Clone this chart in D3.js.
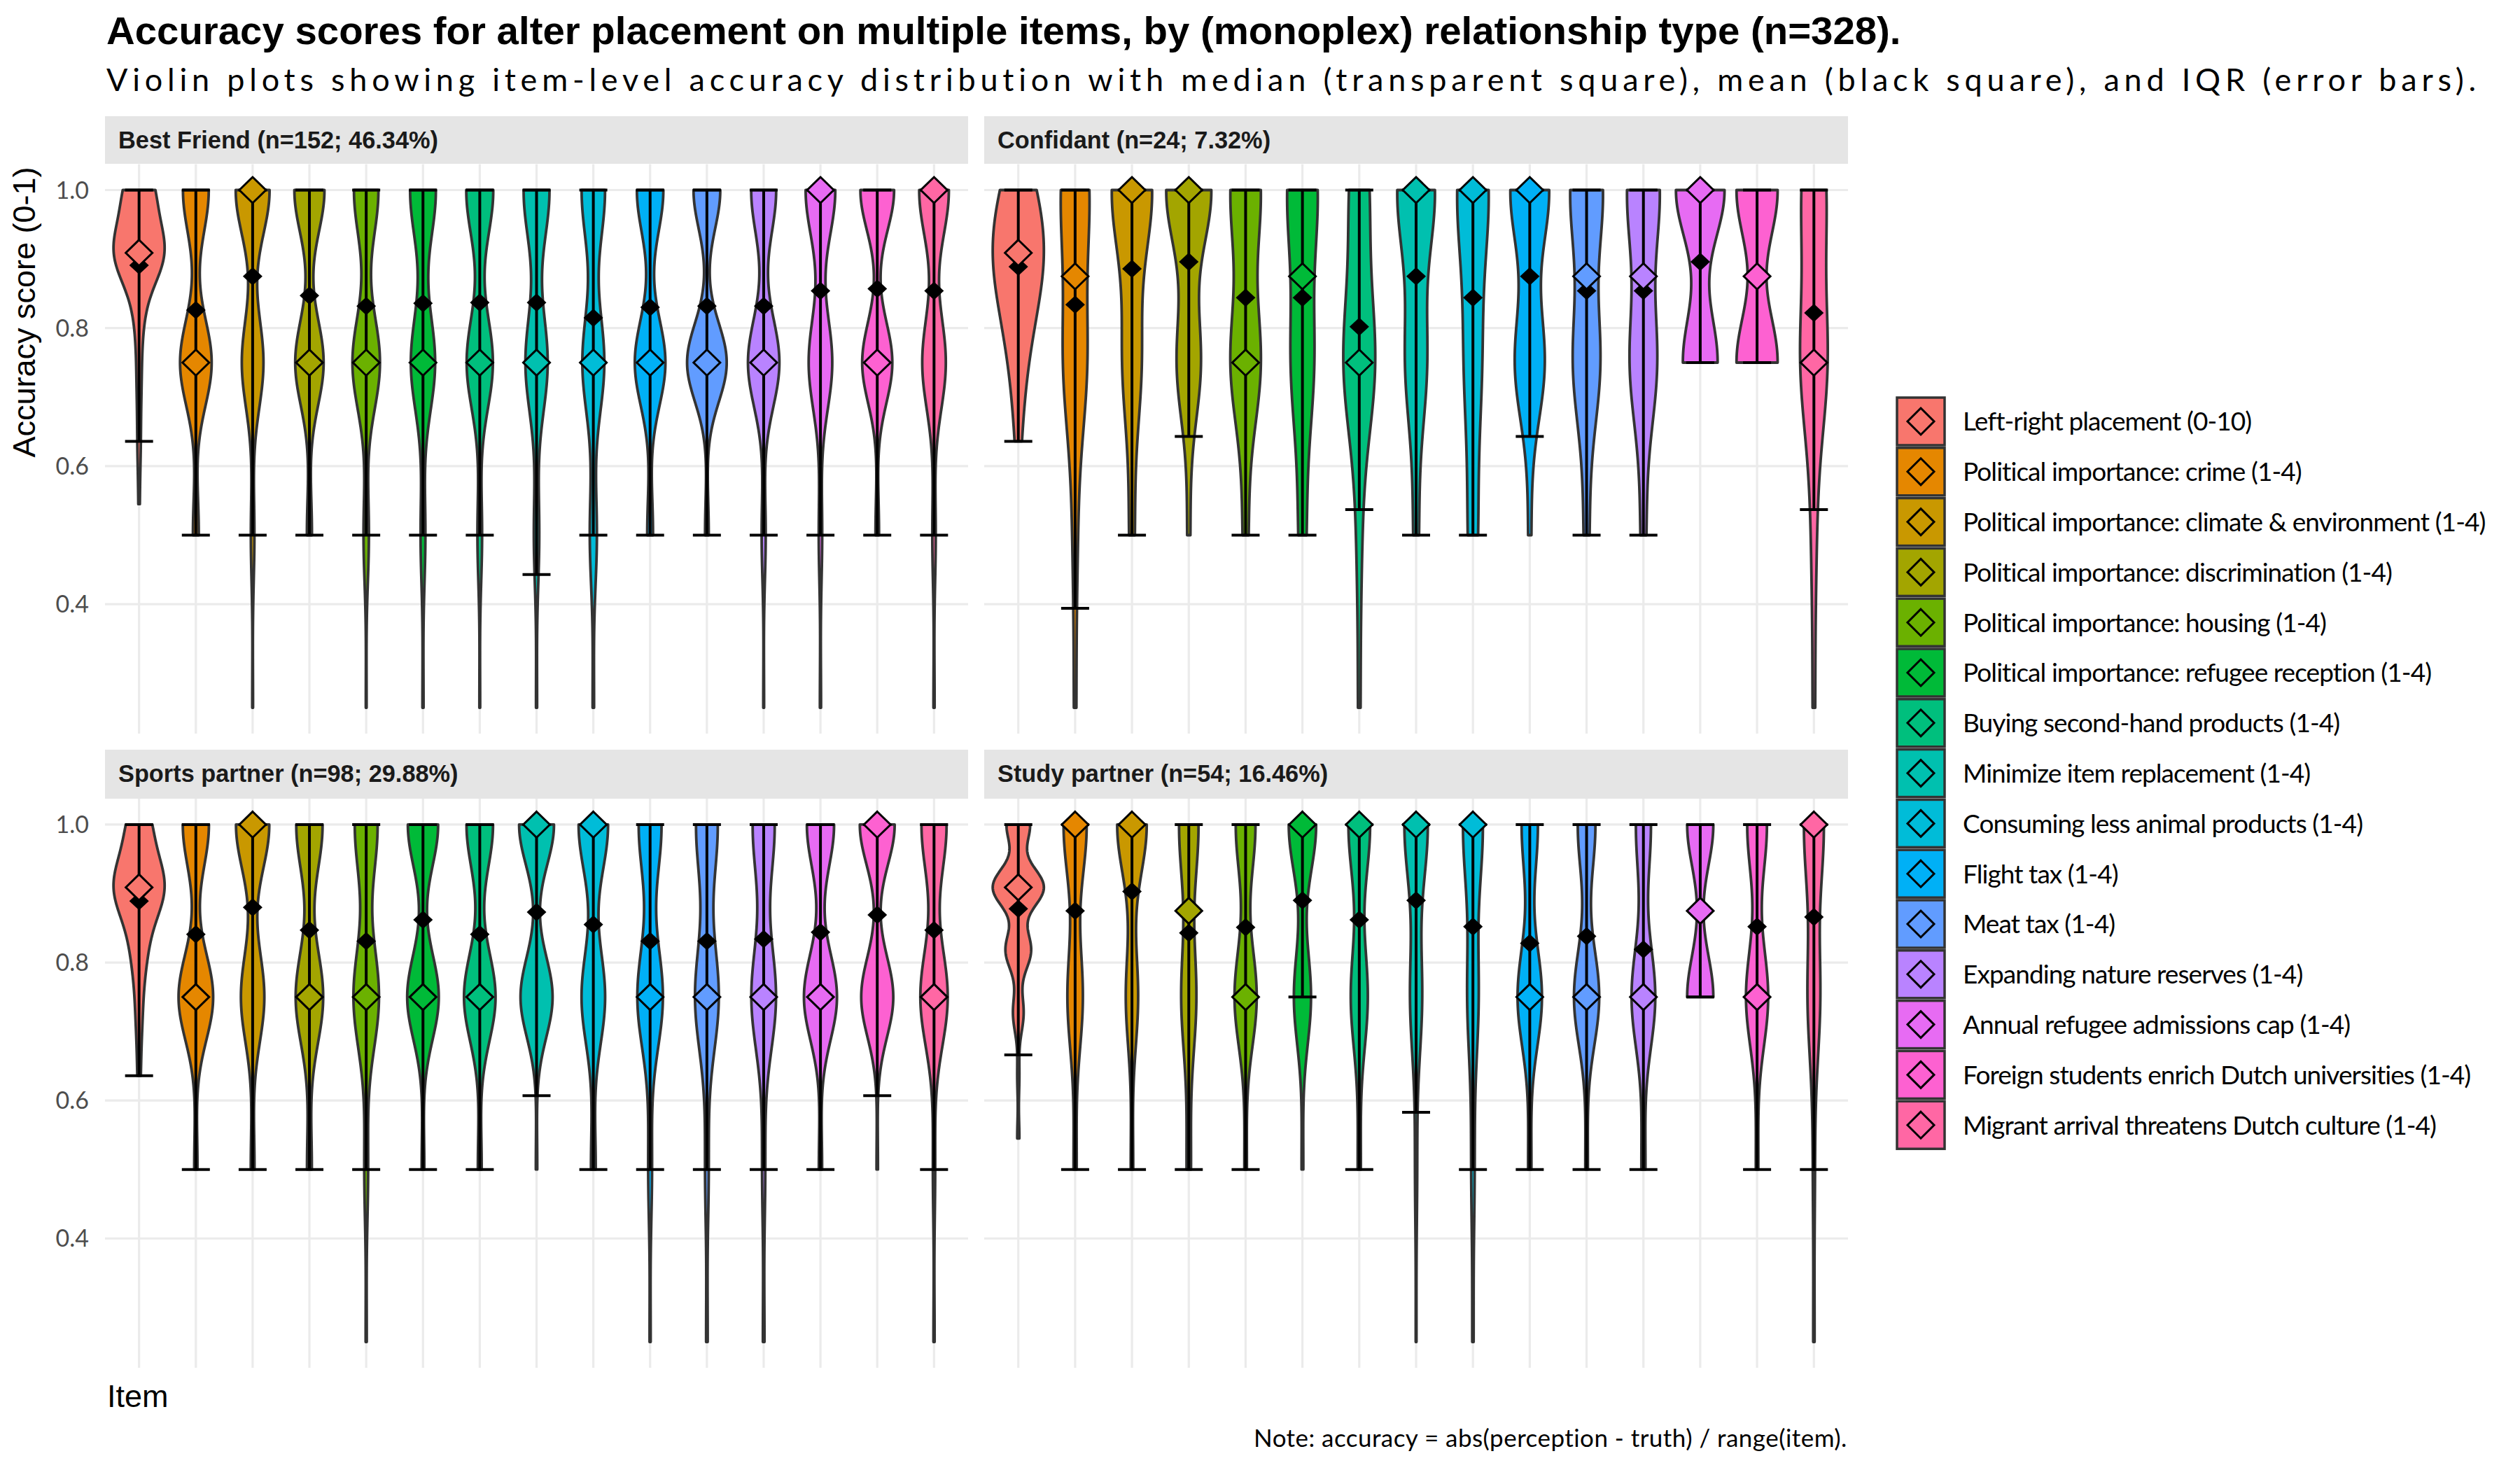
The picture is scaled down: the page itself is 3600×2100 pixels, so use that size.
<!DOCTYPE html>
<html><head><meta charset="utf-8">
<script src="https://cdn.jsdelivr.net/npm/d3@7"></script>
<style>body{margin:0;background:#fff}</style>
</head><body>
<svg id="chart" width="3600" height="2100" xmlns="http://www.w3.org/2000/svg"></svg>
<script>
// ---------------- DATA ----------------
const items = [
  "Left-right placement (0-10)",
  "Political importance: crime (1-4)",
  "Political importance: climate & environment (1-4)",
  "Political importance: discrimination (1-4)",
  "Political importance: housing (1-4)",
  "Political importance: refugee reception (1-4)",
  "Buying second-hand products (1-4)",
  "Minimize item replacement (1-4)",
  "Consuming less animal products (1-4)",
  "Flight tax (1-4)",
  "Meat tax (1-4)",
  "Expanding nature reserves (1-4)",
  "Annual refugee admissions cap (1-4)",
  "Foreign students enrich Dutch universities (1-4)",
  "Migrant arrival threatens Dutch culture (1-4)"
];
const itemColors = ["#F8766D","#E58700","#C99800","#A3A500","#6BB100","#00BA38","#00BF7D","#00C0AF","#00BCD8","#00B0F6","#619CFF","#B983FF","#E76BF3","#FD61D1","#FF67A4"];
const panelLabels = ["Best Friend (n=152; 46.34%)","Confidant (n=24; 7.32%)","Sports partner (n=98; 29.88%)","Study partner (n=54; 16.46%)"];

// accuracy levels at which alters are counted
const lrLevels = [1, 0.909, 0.818, 0.727, 0.636, 0.545];
const itemLevels = [1, 0.75, 0.5, 0.25];

// counts of alters per accuracy level (first row = left-right on lrLevels, others on itemLevels)
const countsBestFriend = [
  [46,80,12,7,5,2],[62,76,14,0],[86,55,9,2],[72,68,12,0],[64,72,14,2],[70,66,13,3],[70,68,12,2],
  [72,62,15,3],[66,62,20,4],[64,74,14,0],[58,86,8,0],[62,78,10,2],[78,62,9,3],[76,68,8,0],[78,62,9,3]];
const countsConfidant = [
  [6,10,5,2,1],[12,10,2,1],[15,7,2,0],[15,8,1,0],[11,11,2,0],[12,9,3,0],[8,13,2,1],
  [14,8,2,0],[13,7,4,0],[13,10,1,0],[12,10,2,0],[12,10,2,0],[14,10,0,0],[12,12,0,0],[10,11,2,1]];
const countsSports = [
  [22,50,14,6,3],[40,53,5,0],[54,38,6,0],[44,46,8,0],[42,47,7,2],[46,48,4,0],[42,50,6,0],
  [50,46,2,0],[50,40,8,0],[42,47,7,2],[42,46,7,3],[42,47,6,3],[42,51,5,0],[50,46,2,0],[44,48,4,2]];
const countsStudy = [
  [11,24,12,5,1,1],[30,20,4,0],[36,15,3,0],[27,21,6,0],[24,27,3,0],[32,20,2,0],[28,22,4,0],
  [33,17,3,1],[30,17,5,2],[20,30,4,0],[21,30,3,0],[19,30,5,0],[27,27,0,0],[24,27,3,0],[30,19,3,2]];

const medianBestFriend = [0.909,0.75,1,0.75,0.75,0.75,0.75,0.75,0.75,0.75,0.75,0.75,1,0.75,1];
const meanBestFriend   = [0.891,0.826,0.875,0.847,0.832,0.836,0.837,0.837,0.815,0.830,0.832,0.832,0.854,0.857,0.854];
const iqrLowBestFriend = [0.636,0.5,0.5,0.5,0.5,0.5,0.5,0.443,0.5,0.5,0.5,0.5,0.5,0.5,0.5];

const medianConfidant = [0.909,0.875,1,1,0.75,0.875,0.75,1,1,1,0.875,0.875,1,0.875,0.75];
const meanConfidant   = [0.889,0.834,0.886,0.896,0.844,0.844,0.802,0.875,0.844,0.875,0.854,0.854,0.896,0.875,0.822];
const iqrLowConfidant = [0.636,0.394,0.5,0.643,0.5,0.5,0.537,0.5,0.5,0.643,0.5,0.5,0.75,0.75,0.537];

const medianSports = [0.909,0.75,1,0.75,0.75,0.75,0.75,1,1,0.75,0.75,0.75,0.75,1,0.75];
const meanSports   = [0.889,0.841,0.880,0.847,0.831,0.862,0.841,0.873,0.855,0.831,0.831,0.834,0.844,0.869,0.847];
const iqrLowSports = [0.636,0.5,0.5,0.5,0.5,0.5,0.5,0.607,0.5,0.5,0.5,0.5,0.5,0.607,0.5];

const medianStudy = [0.909,1,1,0.875,0.75,1,1,1,1,0.75,0.75,0.75,0.875,0.75,1];
const meanStudy   = [0.878,0.875,0.903,0.843,0.851,0.890,0.862,0.890,0.852,0.828,0.838,0.819,0.875,0.852,0.866];
const iqrLowStudy = [0.666,0.5,0.5,0.5,0.5,0.75,0.5,0.583,0.5,0.5,0.5,0.5,0.75,0.5,0.5];

const iqrHigh = [1,1,1,1,1,1,1,1,1,1,1,1,1,1,1];
const yTicks = [0.4, 0.6, 0.8, 1.0];
const yTickLabels = ["0.4","0.6","0.8","1.0"];

// kernel density settings (bandwidth multiplier for 1-4 items; fixed bandwidth for left-right)
const ITEM_ADJUST = 1.2;
const lrBandwidth = [0.045, 0.075, 0.045, 0.028];

const panelData = [
  {label: panelLabels[0], counts: countsBestFriend, median: medianBestFriend, mean: meanBestFriend, low: iqrLowBestFriend, lrBw: lrBandwidth[0]},
  {label: panelLabels[1], counts: countsConfidant,  median: medianConfidant,  mean: meanConfidant,  low: iqrLowConfidant,  lrBw: lrBandwidth[1]},
  {label: panelLabels[2], counts: countsSports,     median: medianSports,     mean: meanSports,     low: iqrLowSports,     lrBw: lrBandwidth[2]},
  {label: panelLabels[3], counts: countsStudy,      median: medianStudy,      mean: meanStudy,      low: iqrLowStudy,      lrBw: lrBandwidth[3]}
];

// ---------------- LAYOUT ----------------
const svg = d3.select("#chart");
svg.append("rect").attr("width",3600).attr("height",2100).attr("fill","#fff");
const SANS = "'Liberation Sans', Arial, sans-serif";
const ALT = "Lato, 'Noto Sans', sans-serif";

const cols = [[150,1383],[1406,2640]];
const rows = [{strip:[166,234], plot:[234.5,1048]}, {strip:[1071,1141], plot:[1141,1954]}];

function fitWidth(sel, target){
  const w = sel.node().getComputedTextLength();
  const fs = parseFloat(sel.attr("font-size"));
  sel.attr("font-size", fs*target/w);
}
function fitSpacing(sel, target){
  const w = sel.node().getComputedTextLength();
  const n = sel.text().length;
  sel.attr("letter-spacing", ((target - w)/(n-1)).toFixed(3));
}

// titles
const title = svg.append("text").attr("x",152).attr("y",63).attr("font-family",SANS).attr("font-weight","bold")
  .attr("font-size",53).attr("fill","#000")
  .text("Accuracy scores for alter placement on multiple items, by (monoplex) relationship type (n=328).");
fitWidth(title, 2564);
const subtitle = svg.append("text").attr("x",152).attr("y",130).attr("font-family",ALT).attr("font-size",45).attr("fill","#000")
  .text("Violin plots showing item-level accuracy distribution with median (transparent square), mean (black square), and IQR (error bars).");
fitSpacing(subtitle, 3386);

// stats helpers
function expand(counts, levels){ const v=[]; counts.forEach((c,i)=>{for(let k=0;k<c;k++) v.push(levels[i]);}); return v; }
function nrd0(x){
  const s = d3.deviation(x);
  const sorted = x.slice().sort(d3.ascending);
  const iqr = d3.quantileSorted(sorted,0.75) - d3.quantileSorted(sorted,0.25);
  let lo = Math.min(s, iqr/1.34);
  if(!lo) lo = s || Math.abs(sorted[0]) || 1;
  return 0.9*lo*Math.pow(x.length,-0.2);
}
function kde(values, bw, N){
  const mn = d3.min(values), mx = d3.max(values), n = values.length;
  const groups = d3.rollups(values, v=>v.length, d=>d);
  const out = [];
  for(let i=0;i<N;i++){
    const y = mx - (mx-mn)*i/(N-1);
    let s = 0;
    for(const [lv,c] of groups){ const z=(y-lv)/bw; s += c*Math.exp(-0.5*z*z); }
    out.push({v:y, d: s/(n*bw*Math.sqrt(2*Math.PI))});
  }
  return out;
}
function diamond(w,h){ return `M0,${-h}L${w},0L0,${h}L${-w},0Z`; }

let stripFont = null;
panelData.forEach((p, pi)=>{
  const col = cols[pi%2], row = rows[Math.floor(pi/2)];
  const g = svg.append("g");
  // ggplot discrete expansion: 0.6 of a unit on each side
  const x = d3.scalePoint().domain(items).range([0,1]);
  const unit = (col[1]-col[0])/(items.length - 1 + 1.2);
  const cx = i => col[0] + 0.6*unit + x(items[i])*(items.length-1)*unit;
  const y = d3.scaleLinear().domain([0.2125,1.0375]).range([row.plot[1], row.plot[0]]);

  // strip
  g.append("rect").attr("x",col[0]).attr("y",row.strip[0]).attr("width",col[1]-col[0]).attr("height",row.strip[1]-row.strip[0]).attr("fill","#E5E5E5");
  const st = g.append("text").attr("x",col[0]+19).attr("y",row.strip[0]+46).attr("font-family",SANS).attr("font-weight","bold")
    .attr("font-size",33).attr("fill","#1A1A1A").text(p.label);
  if(stripFont===null){ fitWidth(st, 457); stripFont = st.attr("font-size"); } else st.attr("font-size", stripFont);

  // grid
  g.selectAll(".hg").data(yTicks).join("line").attr("x1",col[0]).attr("x2",col[1])
    .attr("y1",d=>y(d)).attr("y2",d=>y(d)).attr("stroke","#EBEBEB").attr("stroke-width",3.2);
  g.selectAll(".vg").data(items).join("line").attr("x1",(d,i)=>cx(i)).attr("x2",(d,i)=>cx(i))
    .attr("y1",row.plot[0]).attr("y2",row.plot[1]).attr("stroke","#EBEBEB").attr("stroke-width",3.2);

  // y tick labels on left column
  if(pi%2===0){
    g.selectAll(".tl").data(yTicks).join("text").attr("x",127).attr("y",d=>y(d)).attr("dy","0.36em")
      .attr("text-anchor","end").attr("font-family",ALT).attr("font-size",34).attr("fill","#4D4D4D")
      .text((d,i)=>yTickLabels[i]);
  }

  // densities
  const dens = p.counts.map((c,i)=>{
    const levels = i===0 ? lrLevels : itemLevels;
    const vals = expand(c, levels);
    const bw = i===0 ? p.lrBw : nrd0(vals)*ITEM_ADJUST;
    return kde(vals, bw, 300);
  });
  const maxD = d3.max(dens, a=>d3.max(a, d=>d.d));
  const half = 0.45*unit;

  dens.forEach((a,i)=>{
    const area = d3.area().y(d=>y(d.v)).x0(d=>cx(i)-d.d/maxD*half).x1(d=>cx(i)+d.d/maxD*half);
    g.append("path").attr("d",area(a)).attr("fill",itemColors[i]).attr("stroke","#333333").attr("stroke-width",3.8).attr("stroke-linejoin","round");
  });

  // error bars
  const cap = 20;
  items.forEach((it,i)=>{
    const eg = g.append("g").attr("stroke","#000").attr("stroke-width",4);
    eg.append("line").attr("x1",cx(i)).attr("x2",cx(i)).attr("y1",y(p.low[i])).attr("y2",y(iqrHigh[i]));
    eg.append("line").attr("x1",cx(i)-cap).attr("x2",cx(i)+cap).attr("y1",y(p.low[i])).attr("y2",y(p.low[i]));
    eg.append("line").attr("x1",cx(i)-cap).attr("x2",cx(i)+cap).attr("y1",y(iqrHigh[i])).attr("y2",y(iqrHigh[i]));
  });
  // means
  g.selectAll(".mean").data(p.mean).join("path").attr("d",diamond(14,13))
    .attr("transform",(d,i)=>`translate(${cx(i)},${y(d)})`).attr("fill","#000");
  // medians
  g.selectAll(".med").data(p.median).join("path").attr("d",diamond(19,18.5))
    .attr("transform",(d,i)=>`translate(${cx(i)},${y(d)})`).attr("fill",(d,i)=>itemColors[i])
    .attr("stroke","#000").attr("stroke-width",3);
});

// axis titles
svg.append("text").attr("transform","translate(50,446) rotate(-90)").attr("text-anchor","middle")
  .attr("font-family",SANS).attr("font-size",45).attr("fill","#000").text("Accuracy score (0-1)");
svg.append("text").attr("x",153).attr("y",2010).attr("font-family",SANS).attr("font-size",45).attr("fill","#000").text("Item");

// note
const note = svg.append("text").attr("x",1791).attr("y",2067).attr("font-family",ALT)
  .attr("font-size",35).attr("fill","#000").text("Note: accuracy = abs(perception - truth) / range(item).");
fitSpacing(note, 848);

// legend
const lg = svg.append("g");
const pitch = 71.8;
items.forEach((it,i)=>{
  const y0 = 568 + i*pitch;
  lg.append("rect").attr("x",2710).attr("y",y0).attr("width",68).attr("height",68)
    .attr("fill",itemColors[i]).attr("stroke","#333333").attr("stroke-width",3.5);
  lg.append("path").attr("d",diamond(19,19)).attr("transform",`translate(2744,${y0+34})`)
    .attr("fill","none").attr("stroke","#000").attr("stroke-width",3);
});
const ltexts = lg.selectAll(".lt").data(items).join("text").attr("x",2804).attr("y",(d,i)=>568+i*pitch+34).attr("dy","0.36em")
  .attr("font-family",ALT).attr("font-size",37).attr("fill","#000").text(d=>d);
const longest = ltexts.nodes()[2];
const lsp = (748 - longest.getComputedTextLength())/(items[2].length-1);
ltexts.attr("letter-spacing", lsp.toFixed(3));
</script>
</body></html>
